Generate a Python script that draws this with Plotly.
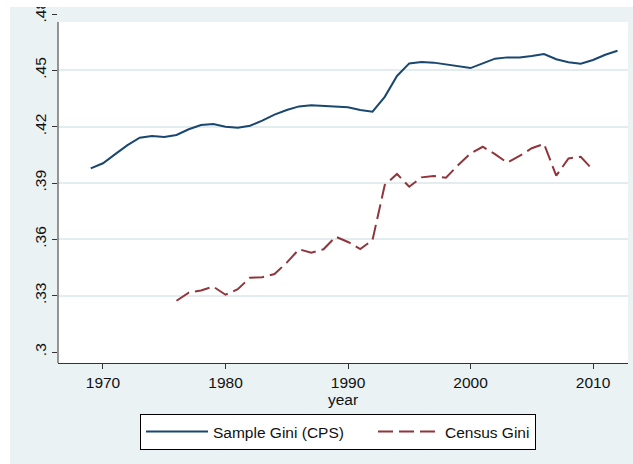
import plotly.graph_objs as go

# Gini series
cps_years = list(range(1969, 2013))
cps_gini = [0.3978, 0.4005, 0.4054, 0.4102, 0.4141, 0.4150, 0.4145, 0.4156, 0.4186, 0.4209,
            0.4214, 0.4200, 0.4194, 0.4205, 0.4232, 0.4264, 0.4289, 0.4308, 0.4314, 0.4310,
            0.4308, 0.4303, 0.4289, 0.4280, 0.4359, 0.4470, 0.4537, 0.4544, 0.4541, 0.4530,
            0.4519, 0.4512, 0.4537, 0.4562, 0.4569, 0.4569, 0.4576, 0.4587, 0.4559, 0.4543,
            0.4535, 0.4555, 0.4583, 0.4604]

census_years = list(range(1976, 2011))
census_gini = [0.3273, 0.3316, 0.3328, 0.3348, 0.3305, 0.3334, 0.3396, 0.3398, 0.3415, 0.3476,
               0.3547, 0.3529, 0.3547, 0.3614, 0.3586, 0.3548, 0.3596, 0.3889, 0.3948, 0.3880,
               0.3930, 0.3937, 0.3928, 0.3996, 0.4058, 0.4093, 0.4054, 0.4008, 0.4044, 0.4085,
               0.4108, 0.3939, 0.4031, 0.4040, 0.3969]

x_ticks = [1970, 1980, 1990, 2000, 2010]
y_ticks = [0.30, 0.33, 0.36, 0.39, 0.42, 0.45, 0.48]
y_labels = ['.3', '.33', '.36', '.39', '.42', '.45', '.48']
grid_ticks = [0.33, 0.36, 0.39, 0.42, 0.45]

navy = '#1A476F'
maroon = '#90353B'
bg = '#EAF2F3'
font = 'Liberation Sans, Arial, sans-serif'

# plot area: x 58..628, y 14..363 (white part starts at 22)
W = 570.0
H = 349.0
top_white = (363 - 22) / H

trace1 = go.Scatter(x=cps_years, y=cps_gini, mode='lines', name='Sample Gini (CPS)',
                    line=dict(color=navy, width=2), legendwidth=155)
trace2 = go.Scatter(x=census_years, y=census_gini, mode='lines', name='Census Gini',
                    line=dict(color=maroon, width=2, dash='15px,6px'))

layout = go.Layout(
    width=633, height=464,
    margin=dict(l=58, r=5, t=14, b=101, autoexpand=False),
    paper_bgcolor=bg, plot_bgcolor='white',
    font=dict(family=font, size=15, color='#111'),
    showlegend=True,
    legend=dict(orientation='h', x=(140 - 58) / W, xanchor='left', y=(363 - 414) / H,
                yanchor='top', bgcolor='white', bordercolor='black', borderwidth=1,
                font=dict(size=15.5), itemwidth=62),
    xaxis=dict(range=[1966.327, 2012.857], tickvals=x_ticks, showgrid=False, zeroline=False,
               showline=True, linecolor='#333', linewidth=1, ticks='outside', ticklen=5,
               tickcolor='#333', tickfont=dict(size=15.5), automargin=False,
               title=dict(text='year', font=dict(size=15.5), standoff=4)),
    yaxis=dict(range=[0.29414, 0.48], tickvals=y_ticks, ticktext=y_labels, tickangle=-90,
               showgrid=False, zeroline=False, showline=False, ticks='outside', ticklen=5,
               tickcolor='#333', tickfont=dict(size=15.5), automargin=False),
    yaxis2=dict(range=[0.29414, 0.48], overlaying='y', tickvals=grid_ticks, showgrid=True,
                gridcolor='#E3EDEF', gridwidth=1.5, showticklabels=False, ticks='',
                zeroline=False, automargin=False),
    shapes=[
        # white page edges around the cropped grey background
        dict(type='rect', xref='paper', yref='paper', x0=-58 / W, x1=(10 - 58) / W,
             y0=-101 / H, y1=(363 + 14) / H, fillcolor='white', line=dict(width=0)),
        dict(type='rect', xref='paper', yref='paper', x0=-58 / W, x1=(633 - 58) / W,
             y0=(363 - 7) / H, y1=(363 + 14) / H, fillcolor='white', line=dict(width=0)),
        # grey band at the top of the plot area
        dict(type='rect', xref='paper', yref='paper', x0=0, x1=1, y0=top_white, y1=1,
             fillcolor=bg, line=dict(width=0), layer='below'),
        dict(type='line', xref='paper', yref='paper', x0=0, x1=0, y0=0, y1=top_white,
             line=dict(color='#333', width=1)),
    ],
)

fig = go.Figure(data=[trace1, trace2], layout=layout)
# an invisible trace so the grid axis is drawn
fig.add_trace(go.Scatter(x=[cps_years[0]], y=[cps_gini[0]], yaxis='y2', mode='none',
                         showlegend=False, hoverinfo='skip'))
fig.write_html("out.html", config={'displayModeBar': False},
               post_script="document.body.style.margin='0';")
